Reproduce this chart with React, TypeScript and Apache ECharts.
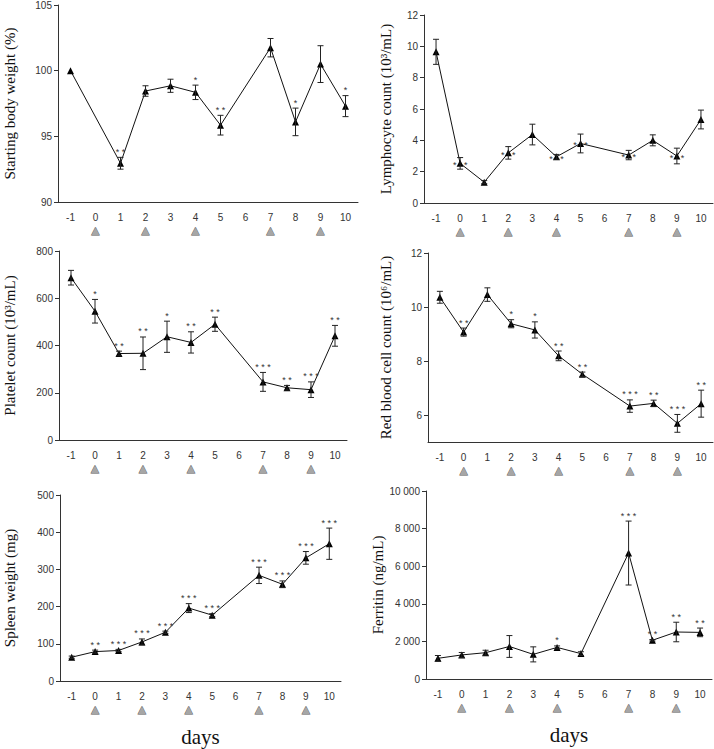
import React, { useEffect, useRef } from 'react';
import * as echarts from 'echarts';

const days = ['-1', '0', '1', '2', '3', '4', '5', '6', '7', '8', '9', '10'];
const treatmentDays = ['0', '2', '4', '7', '9'];

const weightMean = [100, null, 92.95, 98.45, 98.85, 98.35, 95.85, null, 101.75, 96.1, 100.5, 97.3];
const weightErr = [0, null, 0.45, 0.4, 0.5, 0.55, 0.75, null, 0.7, 1.05, 1.4, 0.8];
const weightStars = ['', '', '**', '', '', '*', '**', '', '', '*', '', '*'];

const lymphMean = [9.65, 2.53, 1.33, 3.2, 4.37, 2.95, 3.8, null, 3.06, 4.0, 3.0, 5.33];
const lymphErr = [0.8, 0.37, 0.1, 0.4, 0.66, 0.15, 0.6, null, 0.3, 0.35, 0.5, 0.6];
const lymphStars = ['', '**', '', '**', '', '**', '**', '', '**', '', '**', ''];

const plateletMean = [687, 545, 366, 367, 437, 413, 490, null, 246, 221, 213, 441];
const plateletErr = [31, 50, 10, 69, 66, 45, 30, null, 40, 10, 33, 44];
const plateletStars = ['', '*', '**', '**', '*', '**', '**', '', '***', '**', '***', '**'];

const rbcMean = [10.36, 9.07, 10.46, 9.38, 9.15, 8.19, 7.51, null, 6.33, 6.43, 5.69, 6.42];
const rbcErr = [0.22, 0.15, 0.25, 0.15, 0.3, 0.18, 0.08, null, 0.23, 0.12, 0.33, 0.5];
const rbcStars = ['', '**', '', '*', '*', '**', '**', '', '***', '**', '***', '**'];

const spleenMean = [64, 79, 82, 105, 131, 196, 177, null, 284, 260, 331, 369];
const spleenErr = [3, 4, 3, 8, 3, 12, 4, null, 22, 9, 17, 42];
const spleenStars = ['', '**', '***', '***', '***', '***', '***', '', '***', '***', '***', '***'];

const ferritinMean = [1100, 1280, 1400, 1730, 1310, 1680, 1350, null, 6700, 2060, 2500, 2480];
const ferritinErr = [150, 130, 130, 580, 400, 80, 100, null, 1700, 40, 520, 230];
const ferritinStars = ['', '', '', '', '', '*', '', '', '***', '**', '**', '**'];

const weightTicks = { min: 90, max: 105, interval: 5 };
const lymphTicks = { min: 0, max: 12, interval: 2 };
const plateletTicks = { min: 0, max: 800, interval: 200 };
const rbcTicks = { min: 5, max: 12, custom: [6, 8, 10, 12] };
const spleenTicks = { min: 0, max: 500, interval: 100 };
const ferritinTicks = { min: 0, max: 10000, interval: 2000 };

type Panel = {
  name: string;
  mean: (number | null)[];
  err: (number | null)[];
  stars: string[];
  ticks: any;
  grid: { left: number; top: number; width: number; height: number };
  nameGap: number;
  starsAtPoint?: boolean;
  thousands?: boolean;
  bottom?: boolean;
};

const panels: Panel[] = [
  { name: 'Starting body weight (%)', mean: weightMean, err: weightErr, stars: weightStars, ticks: weightTicks,
    grid: { left: 58, top: 5, width: 300, height: 197 }, nameGap: 41 },
  { name: 'Lymphocyte count (10³/mL)', mean: lymphMean, err: lymphErr, stars: lymphStars, ticks: lymphTicks,
    grid: { left: 424, top: 15, width: 289, height: 188 }, nameGap: 31, starsAtPoint: true },
  { name: 'Platelet count (10³/mL)', mean: plateletMean, err: plateletErr, stars: plateletStars, ticks: plateletTicks,
    grid: { left: 59, top: 251, width: 288, height: 189 }, nameGap: 42 },
  { name: 'Red blood cell count (10⁶/mL)', mean: rbcMean, err: rbcErr, stars: rbcStars, ticks: rbcTicks,
    grid: { left: 428, top: 253, width: 285, height: 189 }, nameGap: 35 },
  { name: 'Spleen weight (mg)', mean: spleenMean, err: spleenErr, stars: spleenStars, ticks: spleenTicks,
    grid: { left: 60, top: 495, width: 281, height: 186 }, nameGap: 43, bottom: true },
  { name: 'Ferritin (ng/mL)', mean: ferritinMean, err: ferritinErr, stars: ferritinStars, ticks: ferritinTicks,
    grid: { left: 426, top: 491, width: 286, height: 188 }, nameGap: 38, thousands: true, bottom: true },
];

const tickFont = 'Liberation Sans, Arial, sans-serif';
const serifFont = 'Liberation Serif, Times New Roman, serif';

export default function App() {
  const ref = useRef<HTMLDivElement>(null);
  useEffect(() => {
    document.body.style.margin = '0';
    if (!ref.current) return;
    const chart = echarts.init(ref.current, null, { renderer: 'svg' });

    const grids: any[] = [];
    const xAxes: any[] = [];
    const yAxes: any[] = [];
    const series: any[] = [];

    panels.forEach((p, i) => {
      grids.push({ ...p.grid, containLabel: false });
      xAxes.push({
        type: 'category',
        gridIndex: i,
        data: days,
        boundaryGap: true,
        axisLine: { lineStyle: { color: '#333', width: 1 } },
        axisTick: { alignWithLabel: true, length: 4, lineStyle: { color: '#333' } },
        axisLabel: {
          interval: 0,
          margin: 9,
          formatter: (v: string) => `{v|${v}}\n{t|${treatmentDays.includes(v) ? '▲' : ' '}}`,
          rich: {
            v: { fontFamily: tickFont, fontSize: 10, color: '#333', lineHeight: 12 },
            t: { fontSize: 13, color: '#a6a6a6', textBorderColor: '#555', textBorderWidth: 0.8, lineHeight: 15 },
          },
        },
        name: p.bottom ? 'days' : '',
        nameLocation: 'middle',
        nameGap: 45,
        nameTextStyle: { fontFamily: serifFont, fontSize: 21, color: '#111' },
      });
      const t = p.ticks;
      const yAxis: any = {
        type: 'value',
        gridIndex: i,
        min: t.min,
        max: t.max,
        splitLine: { show: false },
        axisLine: { show: true, lineStyle: { color: '#333', width: 1 } },
        axisTick: { show: true, length: 4, lineStyle: { color: '#333' } },
        axisLabel: {
          fontFamily: tickFont,
          fontSize: 10,
          color: '#333',
          margin: 6,
          formatter: (v: number) =>
            p.thousands ? String(v).replace(/\B(?=(\d{3})+(?!\d))/g, ' ') : String(v),
        },
        name: p.name,
        nameLocation: 'middle',
        nameRotate: 90,
        nameGap: p.nameGap,
        nameTextStyle: { fontFamily: serifFont, fontSize: 15, color: '#111' },
      };
      if (t.custom) {
        yAxis.axisTick.customValues = t.custom;
        yAxis.axisLabel.customValues = t.custom;
      } else {
        yAxis.interval = t.interval;
      }
      yAxes.push(yAxis);

      series.push({
        type: 'line',
        xAxisIndex: i,
        yAxisIndex: i,
        data: p.mean,
        connectNulls: true,
        symbol: 'triangle',
        symbolSize: 7,
        itemStyle: { color: '#000' },
        lineStyle: { color: '#111', width: 1 },
        z: 3,
      });

      const ebData: any[] = [];
      p.mean.forEach((m, k) => {
        if (m == null) return;
        ebData.push([k, m, p.err[k] ?? 0, k]);
      });
      series.push({
        type: 'custom',
        xAxisIndex: i,
        yAxisIndex: i,
        data: ebData,
        z: 4,
        renderItem: (params: any, api: any) => {
          const x = api.value(0);
          const m = api.value(1);
          const e = api.value(2);
          const k = api.value(3);
          const top = api.coord([x, m + e]);
          const bot = api.coord([x, m - e]);
          const mid = api.coord([x, m]);
          const children: any[] = [];
          const st = { stroke: '#222', lineWidth: 1 };
          if (e > 0) {
            children.push({ type: 'line', shape: { x1: top[0], y1: top[1], x2: bot[0], y2: bot[1] }, style: st });
            children.push({ type: 'line', shape: { x1: top[0] - 3, y1: top[1], x2: top[0] + 3, y2: top[1] }, style: st });
            children.push({ type: 'line', shape: { x1: bot[0] - 3, y1: bot[1], x2: bot[0] + 3, y2: bot[1] }, style: st });
          }
          const s = p.stars[k];
          if (s) {
            if (p.starsAtPoint) {
              children.push({
                type: 'text',
                x: mid[0],
                y: mid[1] + 2,
                style: { text: s.split('').join('   '), align: 'center', verticalAlign: 'middle', fontSize: 9, fontFamily: tickFont, fill: '#333' },
              });
            } else {
              children.push({
                type: 'text',
                x: top[0],
                y: top[1] - 1,
                style: { text: s.split('').join(' '), align: 'center', verticalAlign: 'bottom', fontSize: 9, fontFamily: tickFont, fill: '#333' },
              });
            }
          }
          return { type: 'group', children };
        },
      });
    });

    chart.setOption({
      animation: false,
      backgroundColor: '#fff',
      grid: grids,
      xAxis: xAxes,
      yAxis: yAxes,
      series,
    });
    return () => chart.dispose();
  }, []);
  return <div ref={ref} style={{ width: 714, height: 749 }} />;
}
